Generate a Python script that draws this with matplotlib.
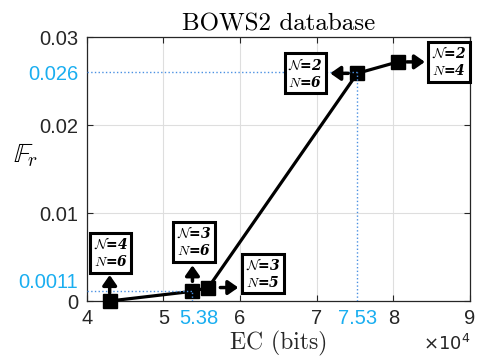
import matplotlib
matplotlib.use("Agg")
import matplotlib.pyplot as plt
from matplotlib.ticker import FixedLocator, FixedFormatter
from matplotlib.transforms import offset_copy, ScaledTranslation

# --- data -----------------------------------------------------------------
ec_bits = [43000, 53800, 55870, 75300, 80600]
f_r = [0.0, 0.0011, 0.00153, 0.0259, 0.0272]
cal_n = [4, 3, 3, 2, 2]
big_n = [6, 6, 5, 6, 4]

x_major = [4, 5, 6, 7, 8, 9]
y_major = [0, 0.01, 0.02, 0.03]
x_marked = [5.38, 7.53]
y_marked = [0.0011, 0.026]

# label placement per point (pixels): box centre offset, arrow direction, tail/tip distance
box_offsets = [(1, 48), (1.5, 49.5), (54.5, 14), (-52, 0), (51, 0)]
arrow_dirs = [(0, 1), (0, 1), (1, 0), (-1, 0), (1, 0)]
arrow_span = [(8, 26), (10, 26), (12, 30), (9, 27), (9, 27)]

plt.rcParams["mathtext.fontset"] = "cm"
TXT = "#262626"
BLUE_LBL = "#1aaef0"
BLUE_LN = "#4a90e2"

fig = plt.figure(figsize=(4.81, 3.62), dpi=100)
ax = fig.add_axes([0.1802, 0.1685, 0.977 - 0.1802, 0.897 - 0.1685])

x = [v / 1e4 for v in ec_bits]

# dotted reference lines
for xv, yv in zip(x_marked, y_marked):
    ax.plot([4, xv], [yv, yv], ls=":", color=BLUE_LN, lw=1.0, zorder=5)
    ax.plot([xv, xv], [0, yv], ls=":", color=BLUE_LN, lw=1.0, zorder=5)

ax.plot(x, f_r, color="k", lw=2.3, marker="s", markersize=10,
        markerfacecolor="k", clip_on=False, zorder=4)

# annotation boxes and arrows
for xi, yi, cn, bn, off, d, (tail, tip) in zip(x, f_r, cal_n, big_n, box_offsets,
                                              arrow_dirs, arrow_span):
    tr_tail = offset_copy(ax.transData, fig=fig, x=d[0] * tail, y=d[1] * tail, units="dots")
    tr_tip = offset_copy(ax.transData, fig=fig, x=d[0] * tip, y=d[1] * tip, units="dots")
    ax.annotate("", xy=(xi, yi), xycoords=tr_tip,
                xytext=(xi, yi), textcoords=tr_tail,
                arrowprops=dict(arrowstyle="-|>,head_length=0.5,head_width=0.35",
                                lw=2.5, color="k", shrinkA=0, shrinkB=0,
                                mutation_scale=12),
                annotation_clip=False, zorder=6)
    ax.annotate(r"$\mathcal{N}$=%d" % cn + "\n" + r"$N$=%d" % bn,
                xy=(xi, yi), xytext=off, textcoords="offset pixels",
                ha="center", va="center", fontsize=10, fontweight="bold",
                family="DejaVu Serif", style="italic", linespacing=1.2,
                bbox=dict(boxstyle="square,pad=0.25", fc="white", ec="k", lw=2.2),
                annotation_clip=False, zorder=7)

ax.set_xlim(4, 9)
ax.set_ylim(0, 0.03)
ax.set_xticks(x_major)
ax.set_yticks(y_major)
ax.set_xticklabels([str(v) for v in x_major])
ax.set_yticklabels(["0", "0.01", "0.02", "0.03"])
ax.xaxis.set_minor_locator(FixedLocator(x_marked))
ax.xaxis.set_minor_formatter(FixedFormatter([f"{v:.2f}" for v in x_marked]))
ax.yaxis.set_minor_locator(FixedLocator(y_marked))
ax.yaxis.set_minor_formatter(FixedFormatter([f"{v:g}" for v in y_marked]))

ax.tick_params(which="major", direction="in", length=4, width=0.8,
               top=True, right=True, colors=TXT, labelsize=14.5, pad=6)
ax.tick_params(which="minor", length=0, labelsize=14.5, labelcolor=BLUE_LBL, pad=6)
for lbl in ax.get_xticklabels(which="both") + ax.get_yticklabels(which="both"):
    lbl.set_family("Liberation Sans")

# nudge the crowded marked labels as in the original
lbl_538 = ax.xaxis.get_minor_ticks()[0].label1
lbl_538.set_transform(lbl_538.get_transform() + ScaledTranslation(6 / 100, 0, fig.dpi_scale_trans))
lbl_0011 = ax.yaxis.get_minor_ticks()[0].label1
lbl_0011.set_transform(lbl_0011.get_transform() + ScaledTranslation(0, 11 / 100, fig.dpi_scale_trans))

ax.grid(True, which="major", color="#dedede", lw=0.8)
ax.set_axisbelow(True)
for s in ax.spines.values():
    s.set_color(TXT)
    s.set_linewidth(0.9)

ax.set_title("BOWS2 database", family="cmr10", fontsize=18, color="k", pad=5)
ax.set_xlabel("EC (bits)", family="cmr10", fontsize=17, color=TXT, labelpad=2)
ax.set_ylabel(r"$\mathbb{F}_r$", fontsize=20, rotation=0, color="k")
ax.yaxis.set_label_coords(-0.16, 0.5)
ax.text(1.0, -0.125, r"$\times10^{4}$", transform=ax.transAxes, ha="right", va="top",
        fontsize=13, color=TXT, math_fontfamily="dejavusans")

fig.savefig("out.png", dpi=100)
